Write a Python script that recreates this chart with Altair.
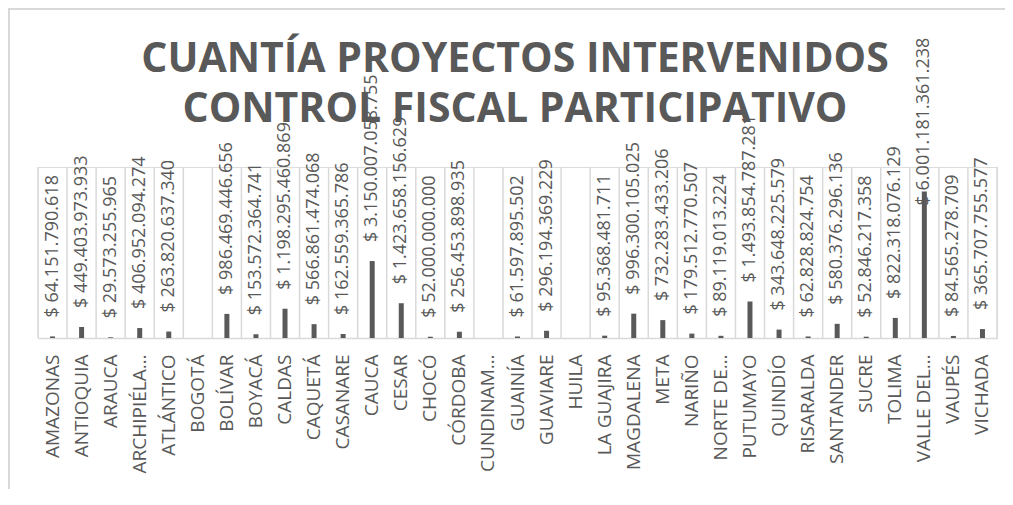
import altair as alt
import pandas as pd
import numpy as np

categories = [
    "AMAZONAS", "ANTIOQUIA", "ARAUCA", "ARCHIPIÉLA…", "ATLÁNTICO", "BOGOTÁ",
    "BOLÍVAR", "BOYACÁ", "CALDAS", "CAQUETÁ", "CASANARE", "CAUCA", "CESAR",
    "CHOCÓ", "CÓRDOBA", "CUNDINAM…", "GUAINÍA", "GUAVIARE", "HUILA",
    "LA GUAJIRA", "MAGDALENA", "META", "NARIÑO", "NORTE DE…", "PUTUMAYO",
    "QUINDÍO", "RISARALDA", "SANTANDER", "SUCRE", "TOLIMA", "VALLE DEL…",
    "VAUPÉS", "VICHADA",
]
values = [
    64151790618, 449403973933, 29573255965, 406952094274, 263820637340, None,
    986469446656, 153572364741, 1198295460869, 566861474068, 162559365786,
    3150007058755, 1423658156629, 52000000000, 256453898935, None,
    61597895502, 296194369229, None, 95368481711, 996300105025, 732283433206,
    179512770507, 89119013224, 1493854787281, 343648225579, 62828824754,
    580376296136, 52846217358, 822318076129, 6001181361238, 84565278709,
    365707755577,
]
title_lines = ["CUANTÍA PROYECTOS INTERVENIDOS", "CONTROL FISCAL PARTICIPATIVO"]


def fmt(v):
    if v is None:
        return ""
    return "$ " + f"{int(v):,}".replace(",", ".")


df = pd.DataFrame({
    "cat": categories,
    "value": [np.nan if v is None else float(v) for v in values],
    "label": [fmt(v) for v in values],
})

W, H = 959, 171
GRAY = "#595959"
LIGHT = "#d9d9d9"

x_scale = alt.Scale(domain=categories, paddingInner=0, paddingOuter=0)
x_axis = alt.Axis(
    title=None, ticks=False, tickSize=0, grid=False, labelAngle=270,
    labelPadding=16, labelFont="Open Sans", labelFontSize=19,
    labelColor=GRAY, labelLimit=300, domainColor=LIGHT, domainWidth=1.5,
)
y_scale = alt.Scale(domain=[0, 7e12], nice=False, zero=True)

base = alt.Chart(df)

grid = base.mark_rule(color=LIGHT, strokeWidth=1.5).encode(
    x=alt.X("cat:N", scale=x_scale, axis=x_axis, bandPosition=0),
    y=alt.value(0), y2=alt.value("height"),
)
one = alt.Chart(pd.DataFrame({"a": [0]}))
grid_end = one.mark_rule(color=LIGHT, strokeWidth=1.5).encode(
    x=alt.value("width"), y=alt.value(0), y2=alt.value("height"),
)
border_left = one.mark_rule(color=LIGHT, strokeWidth=2).encode(
    x=alt.value(-29), y=alt.value(-158), y2=alt.value(H + 160),
)
border_top = one.mark_rule(color=LIGHT, strokeWidth=2).encode(
    x=alt.value(-30), x2=alt.value(W + 10), y=alt.value(-158),
)

bars = base.transform_filter("isValid(datum.value)").mark_bar(
    size=5, color=GRAY
).encode(
    x=alt.X("cat:N", scale=x_scale, axis=x_axis),
    y=alt.Y("value:Q", scale=y_scale, axis=None),
)

text_common = dict(angle=270, align="left", baseline="middle",
                   font="Open Sans", fontSize=18, color=GRAY)
labels = base.transform_filter(
    "isValid(datum.value) && datum.value < 5e12"
).mark_text(dx=19, **text_common).encode(
    x=alt.X("cat:N", scale=x_scale, axis=x_axis),
    y=alt.Y("value:Q", scale=y_scale, axis=None),
    text="label:N",
)
labels_big = base.transform_filter(
    "isValid(datum.value) && datum.value >= 5e12"
).mark_text(dx=-14, **text_common).encode(
    x=alt.X("cat:N", scale=x_scale, axis=x_axis),
    y=alt.Y("value:Q", scale=y_scale, axis=None),
    text="label:N",
)

title = one.mark_text(
    font="Open Sans", fontSize=41, fontWeight="bold", color=GRAY,
    align="center", baseline="alphabetic", lineHeight=50,
).encode(
    x=alt.value(477), y=alt.value(-95), text=alt.value(title_lines),
)

chart = alt.layer(
    border_left, border_top, title, grid, grid_end, bars, labels, labels_big
).properties(
    width=W, height=H,
    autosize=alt.AutoSizeParams(type="none"),
    padding={"left": 30, "top": 159, "right": 8, "bottom": 151},
).configure_view(stroke=None).configure(background="white")

chart.save("out.html", embed_options={"renderer": "svg", "actions": False})
